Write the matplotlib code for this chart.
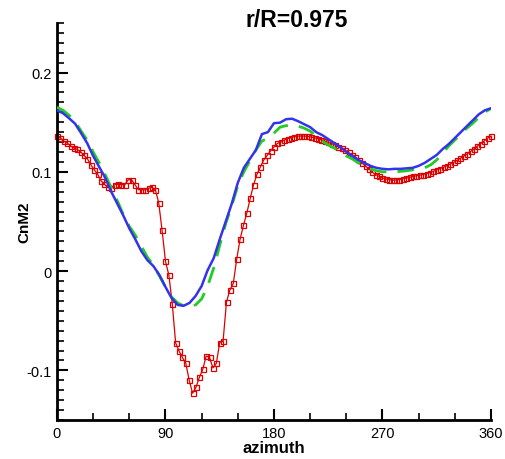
import numpy as np
import matplotlib
matplotlib.use("Agg")
import matplotlib.pyplot as plt
from matplotlib.ticker import MultipleLocator

plt.rcParams['axes.unicode_minus'] = False
plt.rcParams['font.family'] = ['Liberation Sans', 'DejaVu Sans']

# smooth curves, every 5 degrees
az_line = np.arange(0, 361, 5)
blue = [0.162, 0.159, 0.154, 0.1485, 0.139, 0.129, 0.116, 0.105, 0.094, 0.080,
        0.068, 0.056, 0.043, 0.032, 0.020, 0.011, 0.005, -0.004, -0.016, -0.027,
        -0.034, -0.035, -0.032, -0.025, -0.015, 0.001, 0.013, 0.032, 0.050, 0.068,
        0.089, 0.104, 0.113, 0.122, 0.138, 0.140, 0.149, 0.1495, 0.153, 0.1535,
        0.151, 0.148, 0.145, 0.140, 0.137, 0.133, 0.129, 0.125, 0.120, 0.116,
        0.112, 0.109, 0.106, 0.104, 0.103, 0.1025, 0.103, 0.103, 0.1035, 0.104,
        0.106, 0.109, 0.113, 0.117, 0.123, 0.128, 0.134, 0.140, 0.146, 0.152,
        0.158, 0.162, 0.164]
green = [0.165, 0.162, 0.157, 0.151, 0.141, 0.132, 0.120, 0.109, 0.097, 0.084,
         0.071, 0.057, 0.045, 0.036, 0.025, 0.014, 0.006, -0.005, -0.016, -0.026,
         -0.032, -0.035, -0.0365, -0.034, -0.028, -0.015, 0.003, 0.026, 0.048, 0.066,
         0.086, 0.100, 0.111, 0.122, 0.131, 0.134, 0.139, 0.145, 0.1465, 0.147,
         0.146, 0.144, 0.141, 0.136, 0.131, 0.127, 0.124, 0.120, 0.116, 0.113,
         0.109, 0.106, 0.103, 0.101, 0.100, 0.100, 0.100, 0.1005, 0.101, 0.102,
         0.103, 0.104, 0.107, 0.112, 0.119, 0.126, 0.132, 0.138, 0.144, 0.149,
         0.155, 0.160, 0.164]

# measured points, every 2.8125 degrees
az_pts = np.linspace(0, 360, 129)
red = [0.136, 0.134, 0.131, 0.129, 0.126, 0.124, 0.1225, 0.120, 0.1165, 0.113,
       0.107, 0.102, 0.0976, 0.091, 0.0875, 0.0845, 0.0835, 0.087, 0.0875, 0.087,
       0.087, 0.092, 0.092, 0.087, 0.082, 0.082, 0.082, 0.0835, 0.0845, 0.082,
       0.069, 0.041, 0.0098, -0.004, -0.033, -0.0724, -0.0805, -0.087, -0.093, -0.110,
       -0.123, -0.117, -0.107, -0.099, -0.0855, -0.087, -0.0976, -0.093, -0.072, -0.070,
       -0.031, -0.019, -0.0125, 0.012, 0.032, 0.046, 0.0586, 0.0734, 0.0872, 0.0976,
       0.105, 0.112, 0.1165, 0.121, 0.125, 0.1286, 0.130, 0.132, 0.1333, 0.1343,
       0.1354, 0.136, 0.136, 0.136, 0.1357, 0.135, 0.1343, 0.1333, 0.1323, 0.131,
       0.1296, 0.1283, 0.127, 0.1252, 0.1236, 0.1215, 0.1195, 0.1172, 0.1148, 0.112,
       0.109, 0.1057, 0.103, 0.0997, 0.0973, 0.0953, 0.0936, 0.0928, 0.092, 0.0916,
       0.0918, 0.0922, 0.0929, 0.0937, 0.0945, 0.0953, 0.096, 0.0966, 0.0973, 0.0983,
       0.0993, 0.1005, 0.1018, 0.1032, 0.1046, 0.1062, 0.1078, 0.1095, 0.1115, 0.1138,
       0.116, 0.118, 0.1205, 0.123, 0.126, 0.1285, 0.131, 0.134, 0.136]

fig = plt.figure(figsize=(5.06, 4.6), dpi=100)
ax = fig.add_axes([0.1126, 0.0848, 0.8577, 0.8632])

ax.plot(az_pts, red, color='#dd0000', lw=0.9, marker='s', ms=3.6,
        mfc='none', mec='#dd0000', mew=0.9, clip_on=False, zorder=2)
ax.plot(az_line, green, color='#22cc22', lw=2.0, dashes=(6, 4), zorder=3)
ax.plot(az_line, blue, color='#3333ee', lw=1.8, zorder=4)

ax.set_xlim(0, 360)
ax.set_ylim(-0.15, 0.25)
ax.xaxis.set_major_locator(MultipleLocator(90))
ax.xaxis.set_minor_locator(MultipleLocator(30))
ax.yaxis.set_major_locator(MultipleLocator(0.1))
ax.yaxis.set_minor_locator(MultipleLocator(0.01))
ax.set_yticks([-0.1, 0, 0.1, 0.2])
ax.set_yticklabels(['-0.1', '0', '0.1', '0.2'])

for s in ['top', 'right']:
    ax.spines[s].set_visible(False)
for s in ['left', 'bottom']:
    ax.spines[s].set_linewidth(2.0)

ax.tick_params(which='major', direction='in', length=8, width=1.5, labelsize=10.5, pad=4)
ax.tick_params(which='minor', direction='in', length=5, width=1.2)

ax.set_xlabel('azimuth', fontsize=12, fontweight='bold', labelpad=0)
ax.set_ylabel('CnM2', fontsize=11, fontweight='bold', labelpad=-4)
fig.text(0.587, 0.955, 'r/R=0.975', ha='center', va='center', fontsize=16.5, fontweight='bold')

fig.savefig('out.png', dpi=100)
